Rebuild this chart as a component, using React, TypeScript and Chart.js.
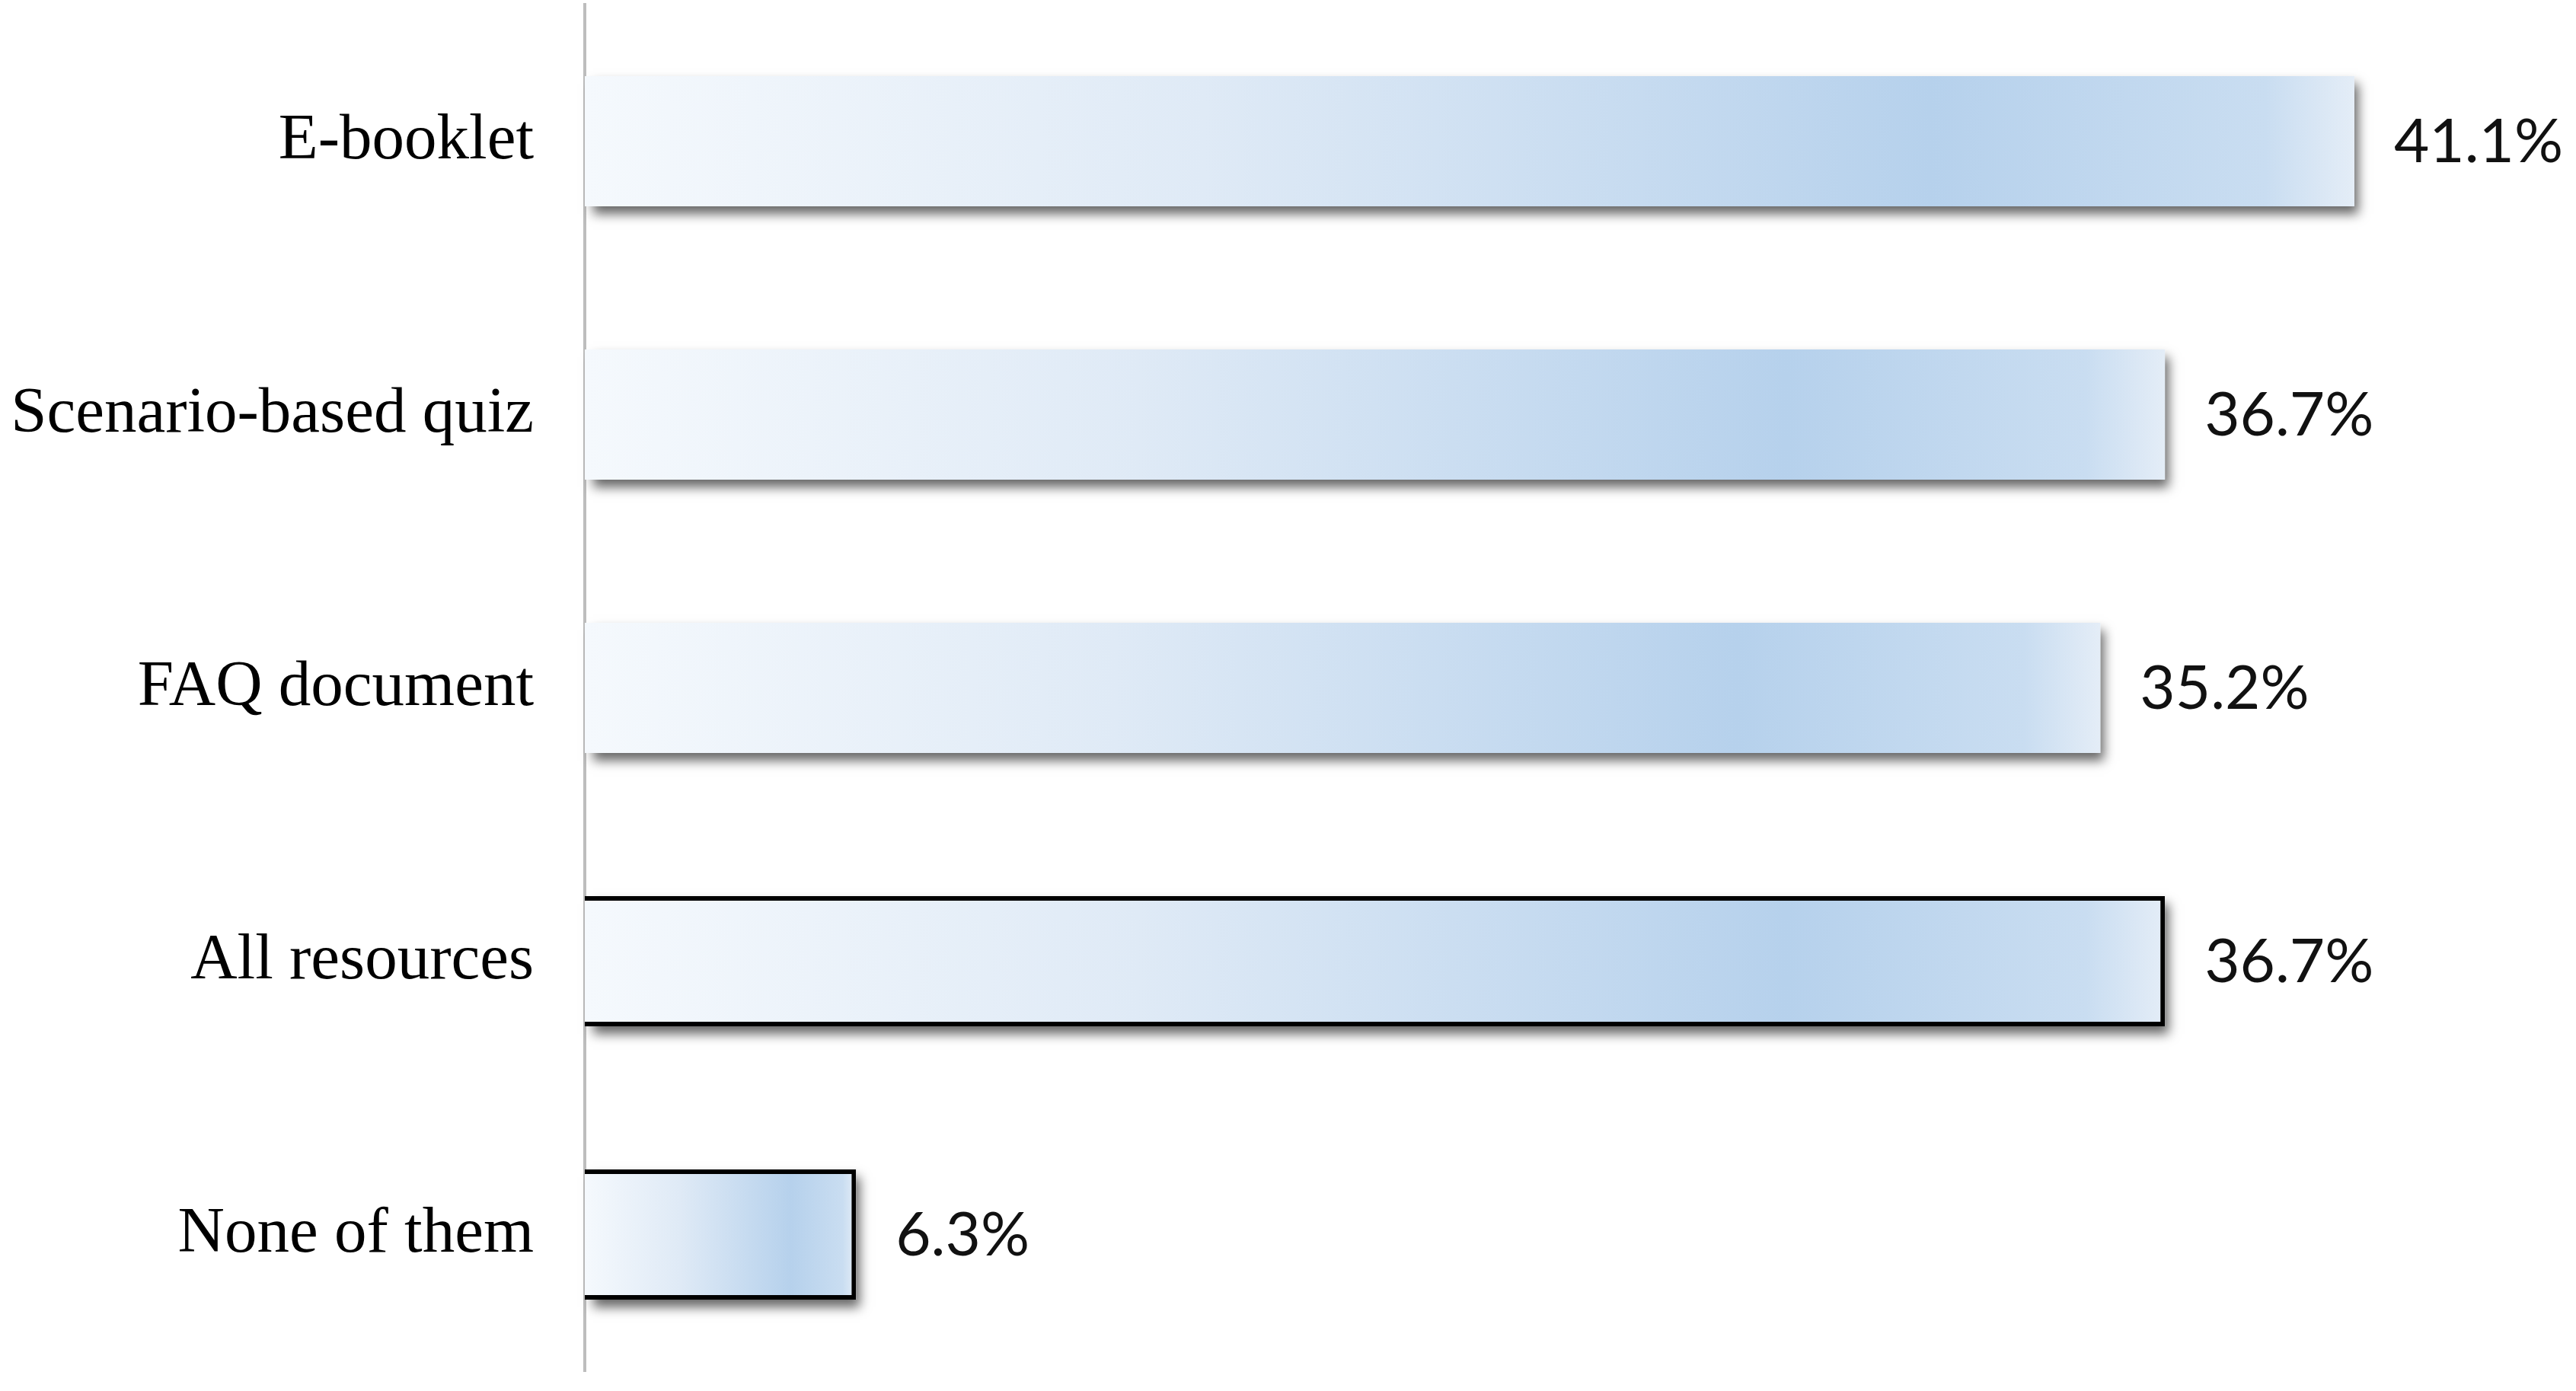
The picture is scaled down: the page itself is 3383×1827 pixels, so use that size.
import React, { useEffect, useRef } from "react";
import { Chart, registerables } from "chart.js";

Chart.register(...registerables);

const categories: string[] = [
  "E-booklet",
  "Scenario-based quiz",
  "FAQ document",
  "All resources",
  "None of them",
];
const values: number[] = [41.1, 36.7, 35.2, 36.7, 6.3];
const outlined: boolean[] = [false, false, false, true, true];
const xMin = 0;
const xMax = 46;

const barGradient = (ctx: any) => {
  const chart = ctx.chart;
  const xs = chart.scales && chart.scales.x;
  if (!chart.chartArea || !xs || ctx.dataIndex === undefined) return "#c8dcf1";
  const x0 = xs.getPixelForValue(0);
  const x1 = xs.getPixelForValue(values[ctx.dataIndex]);
  if (!isFinite(x0) || !isFinite(x1) || x1 - x0 < 1) return "#c8dcf1";
  const g = chart.ctx.createLinearGradient(x0, 0, x1, 0);
  g.addColorStop(0, "#f5f9fd");
  g.addColorStop(0.35, "#dfeaf6");
  g.addColorStop(0.76, "#b6d1ec");
  g.addColorStop(0.95, "#c9ddf1");
  g.addColorStop(1, "#e4edf7");
  return g;
};

const shadowPlugin = {
  id: "barShadow",
  beforeDatasetsDraw(chart: any) {
    const ctx = chart.ctx;
    const meta = chart.getDatasetMeta(0);
    ctx.save();
    meta.data.forEach((bar: any) => {
      const left = Math.min(bar.base, bar.x);
      const right = Math.max(bar.base, bar.x);
      const top = bar.y - bar.height / 2;
      ctx.save();
      ctx.shadowColor = "rgba(0,0,0,0.6)";
      ctx.shadowBlur = 14;
      ctx.shadowOffsetX = 5;
      ctx.shadowOffsetY = 10;
      ctx.fillStyle = "#ffffff";
      ctx.fillRect(left + 6, top, right - left - 6, bar.height);
      ctx.restore();
    });
    ctx.restore();
  },
};

const valueLabelPlugin = {
  id: "valueLabels",
  afterDatasetsDraw(chart: any) {
    const ctx = chart.ctx;
    const meta = chart.getDatasetMeta(0);
    ctx.save();
    ctx.font = "80px Lato";
    ctx.fillStyle = "#111111";
    ctx.textAlign = "left";
    ctx.textBaseline = "middle";
    meta.data.forEach((bar: any, i: number) => {
      ctx.fillText(values[i].toFixed(1) + "%", bar.x + 52, bar.y + 2);
    });
    ctx.restore();
  },
};

export default function App() {
  const canvasRef = useRef<HTMLCanvasElement | null>(null);

  useEffect(() => {
    const canvas = canvasRef.current;
    if (!canvas) return;
    const chart = new Chart(canvas, {
      type: "bar",
      data: {
        labels: categories,
        datasets: [
          {
            data: values,
            backgroundColor: barGradient,
            borderColor: (c: any) => (outlined[c.dataIndex] ? "#000000" : "rgba(0,0,0,0)"),
            borderWidth: (c: any) => (outlined[c.dataIndex] ? 6 : 0),
            borderSkipped: "start",
            categoryPercentage: 1,
            barPercentage: 0.476,
          },
        ],
      },
      options: {
        indexAxis: "y",
        responsive: false,
        animation: false,
        layout: { padding: { left: 0, right: 14, top: 6, bottom: 26 } },
        plugins: {
          legend: { display: false },
          tooltip: { enabled: false },
        },
        scales: {
          x: {
            display: false,
            min: xMin,
            max: xMax,
          },
          y: {
            grid: { display: false, drawTicks: false },
            border: { display: true, color: "#bdbdbd", width: 4 },
            ticks: {
              color: "#000000",
              padding: 67,
              font: { family: "'Liberation Serif', 'Times New Roman', serif", size: 85 },
            },
            afterFit: (scale: any) => {
              scale.width = 768;
              scale.paddingTop = 0;
              scale.paddingBottom = 0;
            },
          },
        },
      },
      plugins: [shadowPlugin, valueLabelPlugin],
    });
    return () => chart.destroy();
  }, []);

  return (
    <div style={{ position: "fixed", left: 0, top: 0, width: 3383, height: 1827, background: "#ffffff" }}>
      <canvas ref={canvasRef} width={3383} height={1827} style={{ display: "block" }} />
    </div>
  );
}
